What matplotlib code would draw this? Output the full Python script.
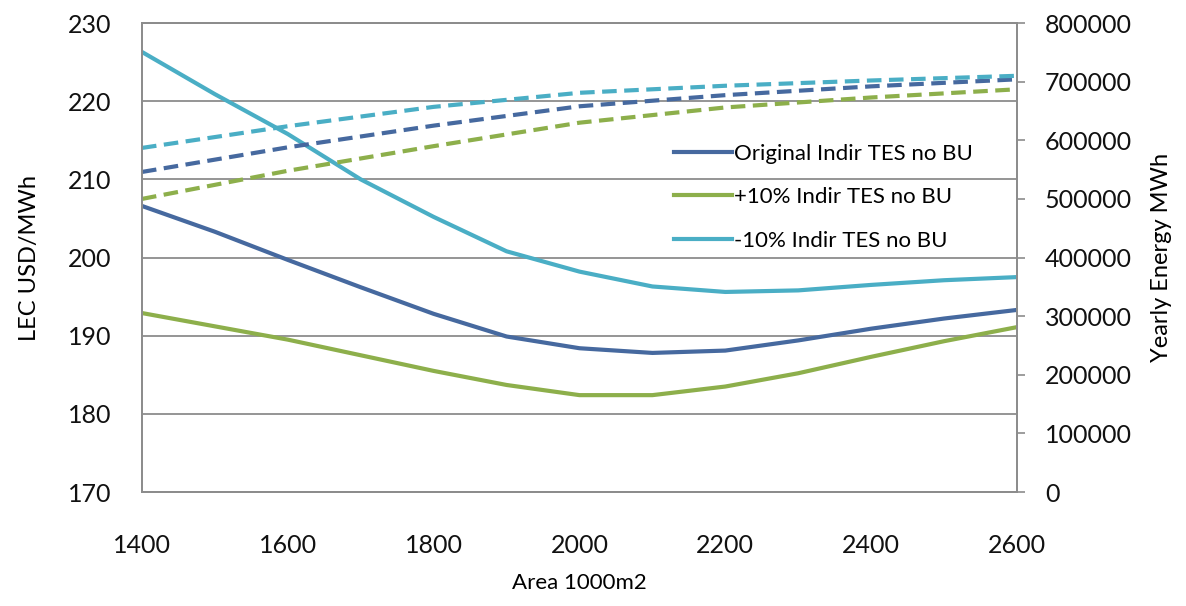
import matplotlib.pyplot as plt

area = [1400, 1500, 1600, 1700, 1800, 1900, 2000, 2100, 2200, 2300, 2400, 2500, 2600]
lec_orig = [206.6, 203.3, 199.7, 196.2, 192.8, 189.9, 188.4, 187.8, 188.1, 189.4, 190.9, 192.2, 193.3]
lec_plus = [192.9, 191.2, 189.5, 187.5, 185.5, 183.7, 182.4, 182.4, 183.5, 185.2, 187.3, 189.3, 191.1]
lec_minus = [226.3, 220.9, 215.8, 210.0, 205.2, 200.8, 198.2, 196.3, 195.6, 195.8, 196.5, 197.1, 197.5]

area_e = [1400, 1600, 1800, 2000, 2200, 2400, 2600]
energy_orig = [546000, 588000, 625000, 658000, 677000, 692000, 704000]
energy_plus = [500000, 548000, 590000, 630000, 656000, 673000, 687000]
energy_minus = [587000, 624000, 657000, 681000, 693000, 702000, 710000]

labels = ['Original Indir TES no BU', '+10% Indir TES no BU', '-10% Indir TES no BU']
c_blue, c_green, c_cyan = '#46699F', '#8DAF4B', '#4AAEC5'
grid_c = '#8c8c8c'

plt.rcParams['font.family'] = ['Lato', 'DejaVu Sans']

fig = plt.figure(figsize=(11.86, 6.06), dpi=100)
ax1 = fig.add_axes([0.1197, 0.188, 0.7378, 0.774])
ax2 = ax1.twinx()

ax1.plot(area, lec_orig, color=c_blue, lw=3, label=labels[0])
ax1.plot(area, lec_plus, color=c_green, lw=3, label=labels[1])
ax1.plot(area, lec_minus, color=c_cyan, lw=3, label=labels[2])

dash = (0, (3.5, 1.8))
ax2.plot(area_e, energy_orig, color=c_blue, lw=3, ls=dash)
ax2.plot(area_e, energy_plus, color=c_green, lw=3, ls=dash)
ax2.plot(area_e, energy_minus, color=c_cyan, lw=3, ls=dash)

ax1.set_xlim(1400, 2600)
ax1.set_ylim(170, 230)
ax1.set_yticks(range(170, 231, 10))
ax1.set_xticks(range(1400, 2601, 200))
ax2.set_ylim(0, 800000)
ax2.set_yticks(range(0, 800001, 100000))

ax1.yaxis.grid(True, color=grid_c, lw=1.3)
ax1.set_axisbelow(True)
for ax in (ax1, ax2):
    for s in ax.spines.values():
        s.set_color(grid_c)
        s.set_linewidth(1.3)

ax1.tick_params(axis='y', length=0, pad=22, labelsize=18, labelcolor='#111111')
ax1.tick_params(axis='x', length=0, pad=30, labelsize=18, labelcolor='#111111')
ax2.tick_params(axis='y', length=6, width=1.2, color=grid_c, pad=14, labelsize=18, labelcolor='#111111')

ax1.set_ylabel('LEC USD/MWh', fontsize=17, labelpad=20)
ax2.set_ylabel('Yearly Energy MWh', fontsize=17, labelpad=14)
ax1.set_xlabel('Area 1000m2', fontsize=16, labelpad=12)

ax1.legend(loc='upper left', bbox_to_anchor=(0.585, 0.785), frameon=False, fontsize=16,
           handlelength=2.6, handletextpad=0.1, labelspacing=1.05)

fig.savefig('out.png', dpi=100)
